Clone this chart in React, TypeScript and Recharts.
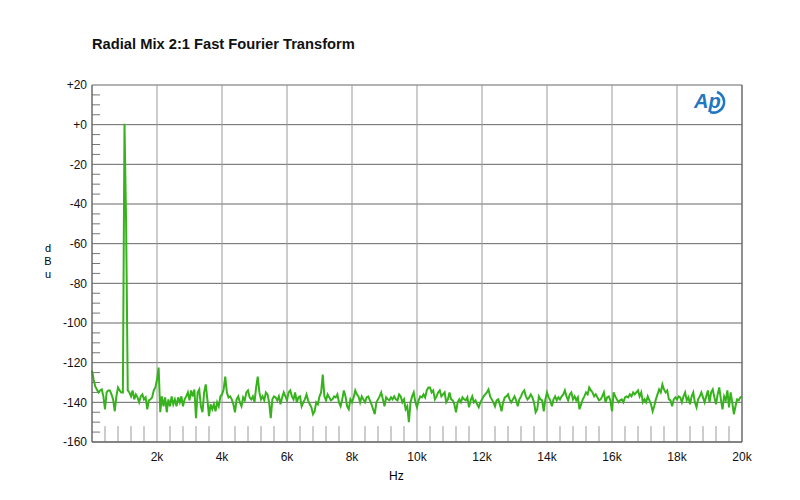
import React from "react";
import {
  LineChart,
  Line,
  XAxis,
  YAxis,
  CartesianGrid,
  ReferenceLine,
} from "recharts";

// FFT bins, 50 Hz apart, 0..20 kHz
const freqs: number[] = Array.from({ length: 401 }, (_, i) => i * 50);

// dBu per bin (one row = 500 Hz)
const levels: number[] = [
  -124, -128.5, -132, -133.5, -135, -134, -133.5, -137, -143.5, -135,
  -134, -134, -136, -138.5, -144.5, -137, -132.5, -134, -135, -135,
  0.5, -50, -134, -135, -137, -134, -138.5, -136, -137.5, -140,
  -137, -136, -138.5, -137.5, -143.5, -139, -138.5, -137.5, -134, -132.5,
  -128.5, -122.5, -145, -137, -142, -137.5, -145, -138.5, -142, -137,
  -141, -138.5, -142, -137.5, -140, -137, -142, -138.5, -137, -135,
  -139, -134, -137, -133.5, -148, -135, -133.5, -142, -145, -135,
  -131, -138.5, -147, -141, -143.5, -141, -144.5, -140, -142, -137,
  -136, -133.5, -127, -135, -137.5, -137, -138.5, -141, -145, -138.5,
  -137, -140, -142, -137.5, -139, -135, -134, -137.5, -138.5, -137,
  -140, -132.5, -127, -135, -138.5, -137, -139, -135, -136, -140,
  -148, -138.5, -137, -137.5, -139, -137, -141, -137.5, -135, -137,
  -139, -135, -134, -137, -138.5, -135, -140, -137.5, -137, -142,
  -140, -138.5, -136, -139, -141, -142.5, -146, -144.5, -140, -141,
  -137, -135, -126, -137, -139, -136, -137.5, -139, -138.5, -137,
  -137.5, -136, -140, -142, -138.5, -134, -137, -142, -143.5, -138.5,
  -140, -137.5, -134, -136, -137, -140, -137, -138.5, -140, -137.5,
  -137, -139, -141, -143.5, -146, -140, -138.5, -137, -135, -138.5,
  -142, -137.5, -138.5, -139, -137.5, -138.5, -137, -138.5, -139, -136,
  -137, -140, -138.5, -143.5, -142, -150, -140, -137, -135, -140,
  -142.5, -139, -137, -137.5, -136, -137.5, -134, -132.5, -132.5, -135,
  -134, -138.5, -137, -135, -134, -137, -136, -135, -140, -138.5,
  -135, -138.5, -139, -141, -145, -140, -138.5, -140, -137.5, -138.5,
  -139, -137.5, -142.5, -139, -137, -140, -139, -141, -142.5, -140,
  -138.5, -137, -136, -135, -133.5, -137, -138.5, -140, -142, -139,
  -138.5, -141, -144.5, -140, -137.5, -137, -136, -138.5, -140, -138.5,
  -137, -139, -142, -138.5, -137, -135, -134, -137, -138.5, -137.5,
  -136, -137.5, -140, -145, -143.5, -137, -138.5, -139, -144.5, -138.5,
  -135, -137.5, -139, -142, -138.5, -137, -139, -137.5, -138.5, -137,
  -136, -134, -137, -139, -136, -135, -138.5, -137, -139, -137.5,
  -143.5, -141, -138.5, -137, -135, -136, -132.5, -134, -135, -137,
  -136, -137.5, -139, -138.5, -137, -135, -140, -137.5, -137, -139,
  -144.5, -135, -137, -138.5, -140, -139, -138.5, -140, -137.5, -137,
  -137.5, -136, -137, -135, -136, -135, -134, -137, -135, -140,
  -138.5, -140, -137, -139, -141, -144.5, -142, -138.5, -136, -133.5,
  -135, -131, -133.5, -135, -134, -138.5, -139, -142, -138.5, -137.5,
  -138.5, -137, -137.5, -140, -137, -135, -139, -137.5, -141, -137,
  -135, -140, -142.5, -138.5, -137, -135, -137.5, -140, -137, -134,
  -140, -135, -133.5, -137.5, -141, -136, -132.5, -138.5, -143.5, -137,
  -139, -134, -142.5, -135, -140, -146, -142, -138.5, -139, -137.5,
  -137,
];

const xTicks: number[] = [0, 2000, 4000, 6000, 8000, 10000, 12000, 14000, 16000, 18000, 20000];
const yTicks: number[] = [20, 0, -20, -40, -60, -80, -100, -120, -140, -160];
const xMinorTicks: number[] = Array.from({ length: 49 }, (_, i) => (i + 1) * 400).filter((v) => v % 2000 !== 0);
const yMinorTicks: number[] = Array.from({ length: 35 }, (_, i) => 15 - i * 5).filter((v) => v % 20 !== 0);

const data = freqs.map((f, i) => ({ f, db: levels[i] }));

const font = "'Liberation Sans', Arial, sans-serif";

function fmtY(v: number) {
  if (v > 0) return "+" + v;
  if (v === 0) return "+0";
  return String(v);
}

function fmtX(v: number) {
  return v === 0 ? "" : v / 1000 + "k";
}

export default function App() {
  return (
    <div style={{ position: "absolute", left: 0, top: 0, width: 800, height: 500, background: "#fff", fontFamily: font }}>
      <div style={{ position: "absolute", left: 92, top: 36, fontSize: 14.7, fontWeight: "bold", color: "#111" }}>
        Radial Mix 2:1 Fast Fourier Transform
      </div>
      <div style={{ position: "absolute", left: 42, top: 242, width: 12, fontSize: 11, lineHeight: "13px", color: "#000", textAlign: "center" }}>
        d<br />B<br />u
      </div>
      <div style={{ position: "absolute", left: 389, top: 469, fontSize: 12, color: "#000" }}>Hz</div>
      <LineChart width={800} height={500} data={data} margin={{ top: 85, right: 58, bottom: 28, left: 32 }}>
        <CartesianGrid stroke="#666" vertical={false} horizontalValues={yTicks} />
        <CartesianGrid stroke="#999" horizontal={false} verticalValues={xTicks} />
        <XAxis
          dataKey="f"
          type="number"
          domain={[0, 20000]}
          ticks={xTicks}
          tickFormatter={fmtX}
          axisLine={{ stroke: "#555" }}
          tickLine={false}
          tickSize={6}
          tickMargin={4}
          tick={{ fill: "#111", fontSize: 12, fontFamily: font }}
          height={30}
          interval={0}
        />
        <YAxis
          type="number"
          domain={[-160, 20]}
          ticks={yTicks}
          tickFormatter={fmtY}
          axisLine={{ stroke: "#555" }}
          tickLine={false}
          tickSize={3}
          tickMargin={2}
          tick={{ fill: "#111", fontSize: 12, fontFamily: font }}
          width={60}
          interval={0}
        />
        <ReferenceLine x={20000} stroke="#555" />
        {xMinorTicks.map((v) => (
          <ReferenceLine key={"xm" + v} segment={[{ x: v, y: -160 }, { x: v, y: -152 }]} stroke="#999" />
        ))}
        {yMinorTicks.map((v) => (
          <ReferenceLine key={"ym" + v} segment={[{ x: 0, y: v }, { x: 250, y: v }]} stroke="#777" />
        ))}
        <Line
          type="linear"
          dataKey="db"
          stroke="#36b31c"
          strokeWidth={2}
          dot={false}
          isAnimationActive={false}
        />
      </LineChart>
      <svg style={{ position: "absolute", left: 690, top: 86 }} width={40} height={32}>
        <text x={4} y={22} fontSize={20} fontStyle="italic" fontWeight="bold" fill="#1f78c1" fontFamily={font}>
          Ap
        </text>
        <path d="M 27 6 A 10 10 0 0 1 20 26" stroke="#1f78c1" strokeWidth={2.5} fill="none" />
      </svg>
    </div>
  );
}
